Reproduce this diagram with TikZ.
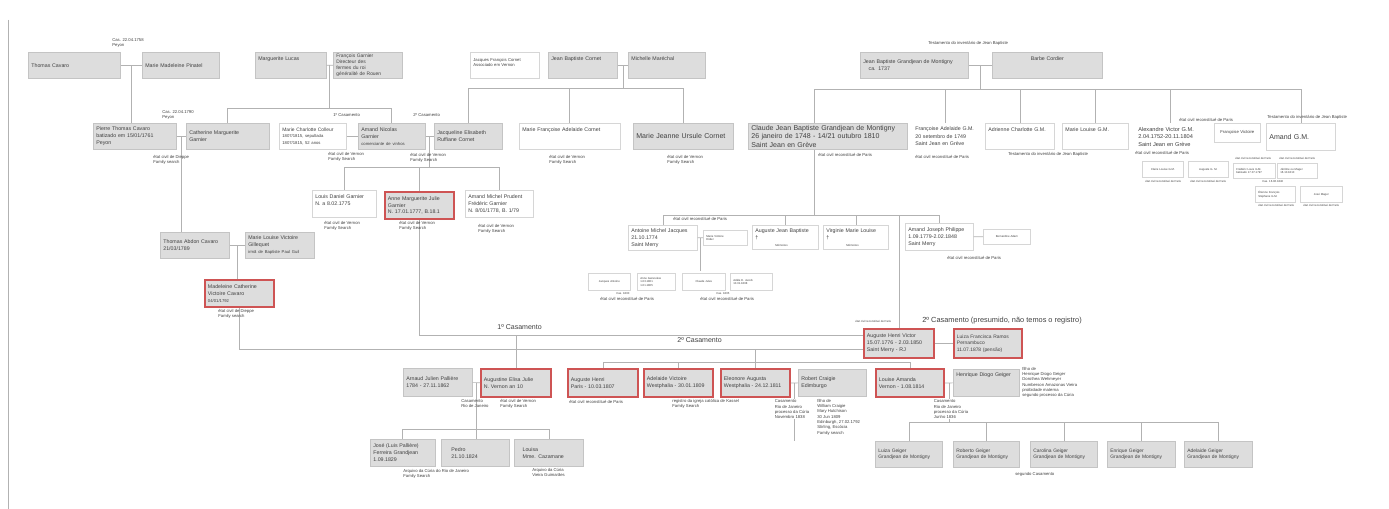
\documentclass[tikz,border=0pt]{standalone}
\usepackage{fontspec}
\setmainfont{Liberation Sans}
\usetikzlibrary{calc}

\definecolor{boxfill}{RGB}{221,221,221}
\definecolor{boxline}{RGB}{196,196,196}
\definecolor{thinline}{RGB}{214,214,214}
\definecolor{wiregray}{RGB}{178,178,178}
\definecolor{redline}{RGB}{206,84,84}
\definecolor{ink}{RGB}{64,64,64}

\newcommand\boxfont{\fontsize{3.0}{3.9}\selectfont}
\newcommand\smallboxfont{\fontsize{2.8}{3.6}\selectfont}
\newcommand\bigfont{\fontsize{4}{5}\selectfont}
\newcommand\notefont{\fontsize{2.4}{3}\selectfont}
\newcommand\tinyfont{\fontsize{1.6}{2}\selectfont}

\tikzset{
  gbox/.style={draw=boxline, fill=boxfill, anchor=north west, align=left,
    inner xsep=0.06cm, inner ysep=1pt, font=\boxfont, text=ink, line width=0.4pt},
  wbox/.style={gbox, fill=white, draw=thinline},
  nbox/.style={gbox, fill=white, draw=none},
  rbox/.style={gbox, draw=redline, line width=1.1pt},
  note/.style={anchor=north west, inner sep=0pt, align=left, font=\notefont, text=ink},
  tnote/.style={note, font=\tinyfont},
  wire/.style={draw=wiregray, line width=0.4pt},
  toptext/.style={text height=3pt, text depth=#1},
}

\begin{document}
\begin{tikzpicture}[x=0.02cm, y=-0.02cm]
\useasboundingbox[fill=white] (0,0) rectangle (1389,509);
\draw[wire] (8,20) -- (8,509);

% first generation
\node[gbox, text width=1.72cm, minimum height=0.52cm] (tcavaro) at (28,52) {Thomas Cavaro};
\node[gbox, text width=1.42cm, minimum height=0.52cm] (mpinatel) at (142,52) {Marie Madeleine Pinatel};
\node[gbox, text width=1.30cm, minimum height=0.52cm, toptext=9pt] (mlucas) at (255,52) {Marguerite Lucas};
\node[gbox, text width=1.26cm, minimum height=0.52cm, font=\fontsize{2.8}{3.4}\selectfont] (fgarnier) at (333,52) {François Garnier\\Directeur des\\fermes du roi\\généralité de Rouen};
\node[wbox, text width=1.26cm, minimum height=0.52cm, font=\notefont] (jfcornet) at (470,52) {Jacques François Cornet\\Associado em Vernon\\~};
\node[gbox, text width=1.26cm, minimum height=0.52cm, toptext=9pt] (jbcornet) at (548,52) {Jean Baptiste Cornet};
\node[gbox, text width=1.42cm, minimum height=0.52cm, toptext=9pt] (mmarechal) at (628,52) {Michelle Maréchal};
\node[gbox, text width=2.04cm, minimum height=0.52cm] (jbgdm) at (860,52) {Jean Baptiste Grandjean de Montigny\\\quad ca. 1737};
\node[gbox, text width=2.08cm, minimum height=0.52cm, toptext=9pt, align=center] (bcordier) at (992,52) {Barbe Cordier};

% second generation
\node[gbox, text width=1.54cm, minimum height=0.52cm] (ptcavaro) at (93,123) {Pierre Thomas Cavaro\\batizado em 15/01/1761\\Peyon};
\node[gbox, text width=1.54cm, minimum height=0.52cm] (cmgarnier) at (186,123) {Catherine Marguerite\\Garnier};
\node[wbox, text width=1.22cm, minimum height=0.52cm, font=\smallboxfont] (mccolleur) at (279,123) {Marie Charlotte Colleur\\{\notefont 1807/1815, sepultada}\\{\notefont 1807/1815, 52 anos}};
\node[gbox, text width=1.22cm, minimum height=0.52cm] (angarnier) at (358,123) {Amand Nicolas\\Garnier\\{\notefont comerciante de vinhos}};
\node[gbox, text width=1.24cm, minimum height=0.52cm] (jercornet) at (434,123) {Jacqueline Elisabeth\\Ruffiane Cornet};
\node[wbox, text width=1.90cm, minimum height=0.52cm, toptext=9pt] (mfacornet) at (519,123) {Marie Françoise Adelaide Cornet};
\node[gbox, text width=1.88cm, minimum height=0.52cm, font=\bigfont] (mjucornet) at (633,123) {Marie Jeanne Ursule Cornet};
\node[gbox, text width=3.06cm, minimum height=0.52cm, font=\bigfont] (cjbgdm) at (748,123) {Claude Jean Baptiste Grandjean de Montigny\\26 janeiro de 1748 - 14/21 outubro 1810\\Saint Jean en Grève};
\node[nbox, text width=1.20cm, minimum height=0.52cm, font=\fontsize{3.0}{4.3}\selectfont] (fagm) at (912,123) {Françoise Adelaide G.M.\\20 setembro de 1749\\Saint Jean en Grève};
\node[wbox, text width=1.26cm, minimum height=0.52cm, toptext=9pt] (acgm) at (985,123) {Adrienne Charlotte G.M.};
\node[wbox, text width=1.20cm, minimum height=0.52cm, toptext=9pt] (mlgm) at (1062,123) {Marie Louise G.M.};
\node[nbox, text width=1.28cm, minimum height=0.54cm, font=\fontsize{3.2}{4.4}\selectfont] (avgm) at (1135,123) {Alexandre Victor G.M.\\2.04.1752-20.11.1804\\Saint Jean en Grève};
\node[wbox, text width=0.80cm, minimum height=0.38cm, font=\notefont, align=center] (fvict) at (1214,123) {Françoise Victoire};
\node[wbox, text width=1.26cm, minimum height=0.54cm, font=\bigfont] (amgm) at (1266,123) {Amand G.M.};

% children of Alexandre Victor
\node[wbox, text width=0.70cm, minimum height=0.32cm, font=\tinyfont, align=center] (clgm) at (1142,161) {Claire Louise G.M.};
\node[wbox, text width=0.68cm, minimum height=0.32cm, font=\tinyfont, align=center] (augm) at (1188,161) {Auguste G. M.};
\node[wbox, text width=0.72cm, minimum height=0.30cm, font=\tinyfont] (flgm) at (1233,163) {Frédéric Louis G.M.\\batizado 17.07.1797};
\node[wbox, text width=0.68cm, minimum height=0.30cm, font=\tinyfont] (jmager) at (1277,163) {Jérôme ou Mager\\16.10.1810};
\node[wbox, text width=0.68cm, minimum height=0.32cm, font=\tinyfont] (efsgm) at (1255,186) {Étienne François\\Stéphane G.M.};
\node[wbox, text width=0.72cm, minimum height=0.32cm, font=\tinyfont, align=center] (jsmager) at (1300,186) {José Mager};

% Garnier children
\node[wbox, text width=1.16cm, minimum height=0.54cm] (ldgarnier) at (312,190) {Louis Daniel Garnier\\N. a 8.02.1775\\~};
\node[rbox, text width=1.26cm, minimum height=0.54cm] (amjgarnier) at (384,191) {Anne Marguerite Julie\\Garnier\\N. 17.01.1777, B.18.1};
\node[wbox, text width=1.24cm, minimum height=0.54cm] (ampgarnier) at (465,190) {Amand Michel Prudent\\Frédéric Garnier\\N. 8/01/1778, B. 1/79};

% Cavaro line
\node[gbox, text width=1.26cm, minimum height=0.52cm] (tacavaro) at (160,232) {Thomas Abdon Cavaro\\21/03/1789};
\node[gbox, text width=1.26cm, minimum height=0.52cm] (mlvgillequet) at (245,232) {Marie Louise Victoire\\Gillequet\\{\notefont irmã de Baptiste Paul Guil}};
\node[rbox, text width=1.26cm, minimum height=0.54cm] (mcvcavaro) at (204,279) {Madeleine Catherine\\Victoire Cavaro\\{\notefont 04/01/1792}};

% children of Claude Jean Baptiste
\node[wbox, text width=1.26cm, minimum height=0.50cm] (amjacques) at (628,225) {Antoine Michel Jacques\\21.10.1774\\Saint Merry};
\node[wbox, text width=0.76cm, minimum height=0.30cm, font=\tinyfont] (amjspouse) at (703,230) {Marie Victoire\\Didier};
\node[wbox, text width=1.20cm, minimum height=0.48cm] (ajbgm) at (752,225) {Auguste Jean Baptiste\\†\\\hspace*{0.4cm}{\tinyfont Mémoires}};
\node[wbox, text width=1.18cm, minimum height=0.48cm] (vmlgm) at (823,225) {Virginie Marie Louise\\†\\\hspace*{0.4cm}{\tinyfont Mémoires}};
\node[wbox, text width=1.24cm, minimum height=0.54cm] (ajphilippe) at (905,223) {Amand Joseph Philippe\\1.09.1779-2.02.1848\\Saint Merry};
\node[wbox, text width=0.82cm, minimum height=0.30cm, font=\tinyfont, align=center] (ajpspouse) at (983,229) {Bernardine Adam};

% children of Antoine Michel Jacques
\node[wbox, text width=0.72cm, minimum height=0.34cm, font=\tinyfont, align=center] (antk1) at (588,273) {Jacques Antoine};
\node[wbox, text width=0.64cm, minimum height=0.34cm, font=\tinyfont] (antk2) at (637,273) {Anne Geneviève\\1.03.1801\\1.01.1805};
\node[wbox, text width=0.74cm, minimum height=0.34cm, font=\tinyfont, align=center] (antk3) at (682,273) {Claude Jules};
\node[wbox, text width=0.72cm, minimum height=0.34cm, font=\tinyfont] (antk4) at (730,273) {Adèle E. Jacob\\10.01.1808};

% Auguste Henri Victor and wife
\node[rbox, text width=1.28cm, minimum height=0.58cm] (ahvgdm) at (863,328) {Auguste Henri Victor\\15.07.1776 - 2.03.1850\\Saint Merry - RJ};
\node[rbox, text width=1.24cm, minimum height=0.58cm, font=\smallboxfont] (lframos) at (953,328) {Luiza Francisca Ramos\\Pernambuco\\11.07.1878 (pensão)};

% their children
\node[gbox, text width=1.26cm, minimum height=0.56cm] (ajpalliere) at (403,368) {Arnaud Julien Pallière\\1784 - 27.11.1862};
\node[rbox, text width=1.28cm, minimum height=0.56cm] (aejulie) at (480,368) {Augustine Elisa Julie\\N. Vernon an 10};
\node[rbox, text width=1.28cm, minimum height=0.56cm] (auhenri) at (567,368) {Auguste Henri\\Paris - 10.03.1807};
\node[rbox, text width=1.26cm, minimum height=0.56cm] (advictoire) at (643,368) {Adelaide Victoire\\Westphalia - 30.01.1809};
\node[rbox, text width=1.26cm, minimum height=0.56cm] (elaugusta) at (720,368) {Eleonore Augusta\\Westphalia - 24.12.1811};
\node[gbox, text width=1.24cm, minimum height=0.54cm] (rcraigie) at (798,369) {Robert Craigie\\Edimburgo};
\node[rbox, text width=1.24cm, minimum height=0.56cm] (lamanda) at (875,368) {Louise Amanda\\Vernon - 1.08.1814};
\node[gbox, text width=1.20cm, minimum height=0.54cm, toptext=10pt] (hdgeiger) at (953,369) {Henrique Diogo Geiger};

% grandchildren
\node[gbox, text width=1.18cm, minimum height=0.54cm] (jose) at (370,439) {José (Luis Pallière)\\Ferreira Grandjean\\1.09.1829};
\node[gbox, text width=1.24cm, minimum height=0.54cm] (pedro) at (441,439) {\quad\ Pedro\\\quad\ 21.10.1824};
\node[gbox, text width=1.26cm, minimum height=0.54cm] (louisa) at (514,439) {\quad Louisa\\\quad Mme. Cazamane};
\node[gbox, text width=1.22cm, minimum height=0.52cm, font=\smallboxfont] (luizag) at (875,441) {Luiza Geiger\\Grandjean de Montigny};
\node[gbox, text width=1.20cm, minimum height=0.52cm, font=\smallboxfont] (robertog) at (953,441) {Roberto Geiger\\Grandjean de Montigny};
\node[gbox, text width=1.22cm, minimum height=0.52cm, font=\smallboxfont] (carolinag) at (1030,441) {Carolina Geiger\\Grandjean de Montigny};
\node[gbox, text width=1.24cm, minimum height=0.52cm, font=\smallboxfont] (enriqueg) at (1107,441) {Enrique Geiger\\Grandjean de Montigny};
\node[gbox, text width=1.24cm, minimum height=0.52cm, font=\smallboxfont] (adelaideg) at (1184,441) {Adelaide Geiger\\Grandjean de Montigny};

% connectors
\draw[wire] (tcavaro) -- (mpinatel);
\coordinate (jcav) at ($(tcavaro.east)!.5!(mpinatel.west)$);
\draw[wire] (jcav) -- (jcav |- ptcavaro.north);
\draw[wire] (ptcavaro) -- (cmgarnier);
\coordinate (jpt) at ($(ptcavaro.east)!.5!(cmgarnier.west)$);
\draw[wire] (jpt) -- (jpt |- tacavaro.north);
\draw[wire] (tacavaro) -- (mlvgillequet);
\coordinate (jta) at ($(tacavaro.east)!.5!(mlvgillequet.west)$);
\draw[wire] (jta) -- (jta |- mcvcavaro.north);

\draw[wire] (mlucas) -- (fgarnier);
\coordinate (jgar) at ($(mlucas.east)!.5!(fgarnier.west)$);
\draw[wire] (jgar) -- ++(0,43) coordinate (bgar);
\draw[wire] (cmgarnier.north) |- (bgar) -| (angarnier.north);
\draw[wire] (mccolleur) -- (angarnier);
\draw[wire] (angarnier) -- (jercornet);
\coordinate (jan) at ($(angarnier.east)!.5!(jercornet.west)$);
\draw[wire] (jan) -- ++(0,31) coordinate (ban);
\draw[wire] (ldgarnier.north) |- (ban) -| (ampgarnier.north);
\draw[wire] (amjgarnier.north) -- (amjgarnier.north |- ban);

\draw[wire] (jbcornet) -- (mmarechal);
\coordinate (jcor) at ($(jbcornet.east)!.5!(mmarechal.west)$);
\draw[wire] (jcor) -- ++(0,23) coordinate (bcor);
\draw[wire] (jercornet.north) -- (jercornet.north |- bcor) -- (bcor -| mjucornet.north) -- (mjucornet.north);
\draw[wire] (mfacornet.north) -- (mfacornet.north |- bcor);

\draw[wire] (jbgdm) -- (bcordier);
\coordinate (jgdm) at ($(jbgdm.east)!.5!(bcordier.west)$);
\draw[wire] (jgdm) -- ++(0,24) coordinate (bgdm);
\coordinate (dcla) at ($(cjbgdm.south west)+(66,0)$);
\draw[wire] (cjbgdm.north -| dcla) -- (dcla |- bgdm) -- (bgdm -| amgm.north) -- (amgm.north);
\foreach \kid in {fagm, acgm, mlgm, avgm}
  \draw[wire] (\kid.north) -- (\kid.north |- bgdm);
\draw[wire] (dcla) -- ++(0,65) coordinate (bcla);
\draw[wire] (amjacques.north) -- (amjacques.north |- bcla) -| (ajphilippe.north);
\foreach \kid in {ajbgm, vmlgm, ahvgdm}
  \draw[wire] (\kid.north) -- (\kid.north |- bcla);
\draw[wire] (amjacques) -- (amjspouse);
\coordinate (jant) at ($(amjacques.east)!.5!(amjspouse.west)$);
\draw[wire] (jant) -- ++(0,33);
\draw[wire] (ajphilippe) -- (ajpspouse);

\coordinate (c1) at ($(amjgarnier.south)+(0,115)$);
\draw[wire] (amjgarnier.south) -- (c1) -- (c1 -| ahvgdm.west);
\coordinate (c2) at ($(mcvcavaro.south)+(0,41)$);
\draw[wire] (mcvcavaro.south) -- (c2) -- (c2 -| ahvgdm.west);
\draw[wire] (aejulie.north) -- (aejulie.north |- c1);
\draw[wire] (ahvgdm) -- (lframos);

\coordinate (c3) at ($(elaugusta.north)+(0,-6)$);
\draw[wire] (c3) -- (c3 |- c2);
\draw[wire] (auhenri.north) |- (c3);
\draw[wire] (lamanda.north) |- (c3);
\foreach \kid in {advictoire, elaugusta}
  \draw[wire] (\kid.north) -- (\kid.north |- c3);

\draw[wire] (ajpalliere) -- (aejulie);
\coordinate (jpal) at ($(ajpalliere.east)!.5!(aejulie.west)$);
\draw[wire] (jpal) -- (jpal |- pedro.north);
\draw[wire] (jose.north) -- ++(0,-10) -| (louisa.north);

\draw[wire] (elaugusta) -- (rcraigie);
\coordinate (jcra) at ($(elaugusta.east)!.5!(rcraigie.west)$);
\draw[wire] (jcra) -- ++(0,58);

\draw[wire] (lamanda) -- (hdgeiger);
\coordinate (jgei) at ($(lamanda.east)!.5!(hdgeiger.west)$);
\draw[wire] (jgei) -- ++(0,40);
\draw[wire] (luizag.north) -- ++(0,-19) -| (adelaideg.north);
\foreach \kid in {robertog, carolinag, enriqueg}
  \draw[wire] (\kid.north) -- ++(0,-19);

% notes
\node[note] (n1) at (112,38) {Cas. 22.04.1758\\Peyon};
\node[note] (n2) at (162,110) {Cas. 22.04.1790\\Peyon};
\node[note] (n3) at (153,155) {état civil de Dieppe\\Family search};
\node[note] (n4) at (333,113) {1º Casamento};
\node[note] (n5) at (413,113) {2º Casamento};
\node[note] (n6) at (328,152) {état civil de Vernon\\Family Search};
\node[note] (n7) at (410,153) {état civil de Vernon\\Family Search};
\node[note] (n8) at (549,155) {état civil de Vernon\\Family Search};
\node[note] (n9) at (667,155) {état civil de Vernon\\Family Search};
\node[note] (n10) at (818,153) {état civil reconstitué de Paris};
\node[note] (n11) at (928,41) {Testamento do inventário de Jean Baptiste};
\node[note] (n12) at (915,155) {état civil reconstitué de Paris};
\node[note] (n13) at (1008,152) {Testamento do inventário de Jean Baptiste};
\node[note] (n14) at (1179,118) {état civil reconstitué de Paris};
\node[note] (n15) at (1267,115) {Testamento do inventário de Jean Baptiste};
\node[note] (n16) at (1135,151) {état civil reconstitué de Paris};
\node[tnote] (n17) at (1235,157) {état civil reconstitué de Paris};
\node[tnote] (n18) at (1279,157) {état civil reconstitué de Paris};
\node[tnote] (n19) at (1145,180) {état civil reconstitué de Paris};
\node[tnote] (n20) at (1190,180) {état civil reconstitué de Paris};
\node[tnote] (n21) at (1262,180) {Cas. 16.06.1840};
\node[tnote] (n22) at (1258,204) {état civil reconstitué de Paris};
\node[tnote] (n23) at (1303,204) {état civil reconstitué de Paris};
\node[note] (n24) at (324,221) {état civil de Vernon\\Family Search};
\node[note] (n25) at (399,221) {état civil de Vernon\\Family Search};
\node[note] (n26) at (478,224) {état civil de Vernon\\Family Search};
\node[note] (n27) at (218,309) {état civil de Dieppe\\Family search};
\node[note] (n28) at (673,217) {état civil reconstitué de Paris};
\node[tnote] (n29) at (616,292) {Cas. 1800};
\node[note] (n30) at (600,297) {état civil reconstitué de Paris};
\node[tnote] (n31) at (716,292) {Cas. 1805};
\node[note] (n32) at (700,297) {état civil reconstitué de Paris};
\node[note] (n33) at (947,256) {état civil reconstitué de Paris};
\node[tnote] (n34) at (855,320) {état civil reconstitué de Paris};
\node[note, font=\fontsize{4.2}{5}\selectfont] (n35) at (922,317) {2º Casamento (presumido, não temos o registro)};
\node[note, font=\bigfont] (n36) at (497,324) {1º Casamento};
\node[note, font=\bigfont] (n37) at (677,337) {2º Casamento};
\node[note] (n38) at (461,399) {Casamento\\Rio de Janeiro};
\node[note] (n39) at (500,399) {état civil de Vernon\\Family Search};
\node[note] (n40) at (569,400) {état civil reconstitué de Paris};
\node[note] (n41) at (672,399) {registro da igreja católica de Kassel\\Family Search};
\node[note, fill=white, inner sep=0.3pt] (n42) at (774,399) {Casamento\\Rio de Janeiro\\processo da Cúria\\Novembro 1838};
\node[note] (n43) at (817,399) {filho de\\William Craigie\\Mary Hutchison\\30 Jun 1809\\Edinburgh, 27.02.1792\\Stirling, Escócia\\Family search};
\node[note, fill=white, inner sep=0.3pt] (n44) at (933,399) {Casamento\\Rio de Janeiro\\processo da Cúria\\Junho 1836};
\node[note] (n45) at (1022,367) {filho de\\Henrique Diogo Geiger\\Dorothea Wehmeyer\\Numberson Amazonas Vieira\\proibidade materna\\segundo processo da Cúria};
\node[note] (n46) at (403,469) {Arquivo da Cúria do Rio de Janeiro\\Family Search};
\node[note] (n47) at (532,468) {Arquivo da Cúria\\Vieira Guimarães};
\node[note] (n48) at (1015,472) {segundo Casamento};
\end{tikzpicture}
\end{document}
